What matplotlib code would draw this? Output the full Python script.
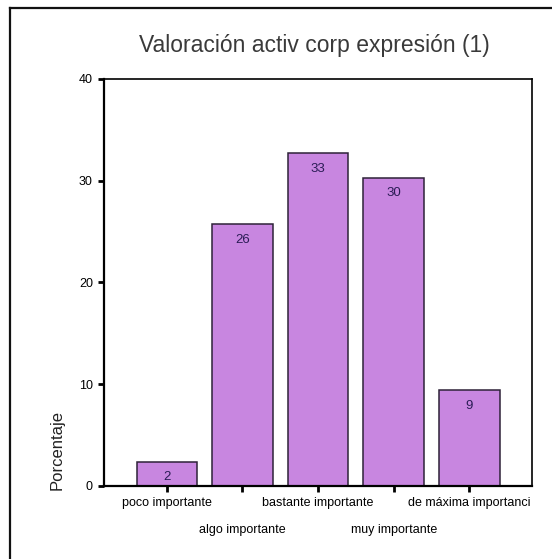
import matplotlib
matplotlib.use("Agg")
import matplotlib.pyplot as plt
from matplotlib.lines import Line2D

plt.rcParams["font.family"] = ["Liberation Sans", "DejaVu Sans"]

categories = ["poco importante", "algo importante", "bastante importante",
              "muy importante", "de máxima importanci"]
porcentaje = [2.4, 25.7, 32.7, 30.3, 9.4]
yticks = [0, 10, 20, 30, 40]

fig = plt.figure(figsize=(5.52, 5.59), dpi=100)
ax = fig.add_axes([0.1884, 0.1306, 0.7754, 0.7281])

x = range(len(categories))
bars = ax.bar(x, porcentaje, width=0.8, color="#c886e0",
              edgecolor="#2e2238", linewidth=1.1)

for b, v in zip(bars, porcentaje):
    ax.annotate(f"{v:.0f}", (b.get_x() + b.get_width() / 2, v),
                xytext=(0, -11), textcoords="offset points",
                ha="center", va="center", fontsize=9.5, color="#2a1c55")

ax.set_xlim(-0.83, 4.83)
ax.set_ylim(0, 40)
ax.set_yticks(yticks)
ax.set_xticks(list(x))
ax.set_xticklabels(categories, fontsize=9)
ax.tick_params(axis="both", direction="out", length=4, width=2, labelsize=9)
ax.tick_params(axis="y", pad=4)
# stagger the category names on two rows
for i, t in enumerate(ax.xaxis.get_major_ticks()):
    t.set_pad(4 if i % 2 == 0 else 23.5)

for s in ax.spines.values():
    s.set_linewidth(1.2)
ax.spines["left"].set_linewidth(1.6)
ax.spines["bottom"].set_linewidth(1.6)

fig.text(0.569, 0.919, "Valoración activ corp expresión (1)",
         ha="center", va="center", fontsize=16.5, color="#3a3a3a")
fig.text(0.103, 0.195, "Porcentaje", rotation=90, ha="center", va="center",
         fontsize=12, color="#222222")

# frame lines along the top and left edge
fig.add_artist(Line2D([0.019, 1.0], [0.985, 0.985], color="#111111", lw=1.6,
                      transform=fig.transFigure))
fig.add_artist(Line2D([0.019, 0.019], [0.0, 0.985], color="#111111", lw=1.6,
                      transform=fig.transFigure))

fig.savefig("out.png", dpi=100)
